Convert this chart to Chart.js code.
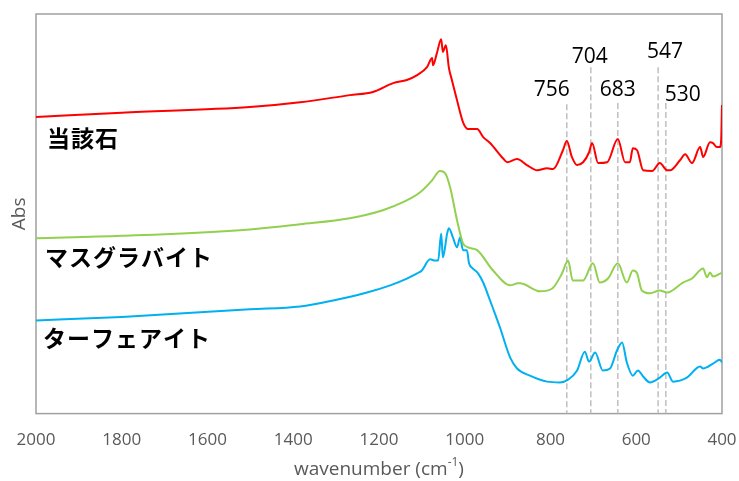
<!DOCTYPE html>
<html>
<head>
<meta charset="utf-8">
<script src="https://cdn.jsdelivr.net/npm/chart.js@4"></script>
<style>
  html, body { margin: 0; padding: 0; background: #fff; }
  #wrap { width: 739px; height: 481px; }
</style>
</head>
<body>
<div id="wrap"><canvas id="c" width="739" height="481"></canvas></div>
<script>
// series names (drawn as labels inside the plot)
const seriesNames = ['当該石', 'マスグラバイト', 'ターフェアイト'];

// 当該石 (red)
const sampleWn = [2000, 1800, 1501, 1384, 1268, 1214, 1167, 1135, 1111, 1088, 1076, 1074, 1065, 1055, 1051, 1044, 1037, 1030, 1018, 1004, 992, 971, 957, 941, 911, 901, 878, 855, 831, 808, 794, 771, 762, 750, 738, 724, 710, 703, 689, 668, 643, 626, 615, 608, 598, 584, 563, 545, 528, 521, 498, 486, 470, 451, 444, 428, 421, 412, 405, 402, 400];
const sampleAbs = [74.2, 75.3, 76.7, 77.9, 79.7, 80.5, 82.7, 83.5, 84.7, 86.7, 89.0, 87.2, 90.2, 93.7, 90.5, 92.2, 86.5, 83.5, 78.4, 72.9, 71.2, 71.2, 69.2, 67.7, 63.9, 62.9, 63.7, 62.2, 60.9, 61.4, 61.2, 65.9, 68.2, 64.2, 62.2, 62.9, 65.4, 67.7, 62.7, 62.9, 68.7, 62.9, 62.9, 66.4, 65.9, 60.9, 60.7, 62.7, 60.9, 60.9, 63.4, 64.9, 62.7, 66.7, 64.2, 67.9, 67.7, 66.7, 66.7, 68.4, 77.2];

// マスグラバイト (green)
const musgraviteWn = [2000, 1800, 1501, 1384, 1268, 1191, 1144, 1104, 1076, 1058, 1046, 1034, 1018, 1004, 992, 971, 934, 894, 876, 871, 824, 796, 773, 759, 748, 724, 701, 685, 666, 643, 622, 608, 598, 587, 568, 545, 528, 491, 470, 444, 435, 428, 421, 400];
const musgraviteAbs = [43.9, 44.5, 46.1, 47.4, 48.9, 50.9, 52.9, 55.4, 58.4, 60.7, 60.2, 56.6, 48.4, 42.6, 41.6, 40.9, 35.8, 32.1, 32.6, 32.6, 30.6, 31.3, 35.1, 38.3, 33.3, 33.3, 37.6, 32.8, 33.8, 37.6, 32.8, 35.8, 35.1, 30.8, 30.1, 30.8, 30.3, 32.8, 33.8, 36.3, 34.1, 35.3, 34.3, 35.3];

// ターフェアイト (blue)
const taaffeiteWn = [2000, 1800, 1501, 1384, 1307, 1228, 1174, 1135, 1111, 1100, 1081, 1069, 1062, 1055, 1051, 1041, 1037, 1027, 1018, 1011, 1004, 995, 990, 981, 969, 957, 941, 934, 918, 894, 878, 848, 808, 778, 759, 738, 720, 710, 696, 678, 661, 645, 633, 622, 608, 596, 584, 568, 545, 528, 514, 482, 451, 444, 421, 405, 400];
const taaffeiteAbs = [23.3, 24.2, 26.1, 26.8, 28.3, 30.3, 32.1, 33.8, 35.1, 35.8, 38.6, 38.3, 38.3, 45.1, 39.1, 45.1, 46.4, 43.9, 41.6, 44.1, 40.9, 40.9, 37.6, 36.3, 35.1, 32.8, 28.3, 26.3, 21.6, 14.0, 11.3, 9.5, 8.0, 7.8, 8.5, 10.8, 15.5, 13.0, 15.3, 10.8, 11.3, 15.8, 17.8, 12.8, 9.5, 10.8, 9.3, 7.8, 9.0, 10.3, 8.0, 9.0, 11.8, 11.3, 12.5, 13.5, 12.8];

// dashed peak markers
const peakWn = [762, 706, 643, 549, 531];
const peakLabels = ['756', '704', '683', '547', '530'];
const peakTop = [77.4, 86.7, 77.7, 86.7, 77.7];

// x axis ticks
const xTicks = [2000, 1800, 1600, 1400, 1200, 1000, 800, 600, 400];

const colors = ['#ff0000', '#92d050', '#00b0f0'];
const toXY = (xs, ys) => xs.map((x, i) => ({ x: x, y: ys[i] }));

const datasets = [
    { label: seriesNames[0], data: toXY(sampleWn, sampleAbs), borderColor: colors[0] },
    { label: seriesNames[1], data: toXY(musgraviteWn, musgraviteAbs), borderColor: colors[1] },
    { label: seriesNames[2], data: toXY(taaffeiteWn, taaffeiteAbs), borderColor: colors[2] }
].map(d => Object.assign(d, { borderWidth: 2, pointRadius: 0, cubicInterpolationMode: 'monotone', order: 0 }));

peakWn.forEach((w, i) => {
    datasets.push({
        label: 'peak ' + peakLabels[i],
        data: [{ x: w, y: peakTop[i] }, { x: w, y: 0 }],
        borderColor: '#bfbfbf',
        borderWidth: 1.5,
        borderDash: [6, 3],
        pointRadius: 0,
        order: 1
    });
});

// text and frame drawn on top of the chart area
const decorations = {
    id: 'decorations',
    beforeDatasetsDraw(chart) {
        const { ctx, chartArea: a } = chart;
        ctx.save();
        ctx.strokeStyle = '#a0a0a0';
        ctx.lineWidth = 1.5;
        ctx.strokeRect(a.left, a.top, a.right - a.left, a.bottom - a.top);
        ctx.restore();
    },
    afterDraw(chart) {
        const { ctx, chartArea: a, scales } = chart;
        const x = scales.x, y = scales.y;
        ctx.save();

        // peak numbers
        const dx = [-15, -1, 0, 7, 17];
        const dy = [-14, -10, -13, -15, -8];
        ctx.font = '21px "Open Sans"';
        ctx.fillStyle = '#000';
        ctx.textAlign = 'center';
        ctx.textBaseline = 'middle';
        peakWn.forEach((w, i) => {
            ctx.fillText(peakLabels[i], x.getPixelForValue(w) + dx[i], y.getPixelForValue(peakTop[i]) + dy[i]);
        });

        // series names
        ctx.font = 'bold 23px "Noto Sans CJK JP"';
        ctx.textAlign = 'left';
        ctx.letterSpacing = '1px';
        const nameX = [a.left + 11, a.left + 9, a.left + 7];
        const nameY = [138, 257, 338];
        seriesNames.forEach((n, i) => ctx.fillText(n, nameX[i], nameY[i]));
        ctx.letterSpacing = '0px';

        // y title
        ctx.fillStyle = '#595959';
        ctx.font = '19px "Open Sans"';
        ctx.textAlign = 'center';
        ctx.translate(20, (a.top + a.bottom) / 2);
        ctx.rotate(-Math.PI / 2);
        ctx.fillText('Abs', 0, 0);
        ctx.setTransform(1, 0, 0, 1, 0, 0);

        // x title with superscript
        const main = 'wavenumber (cm';
        const sup = '-1';
        const end = ')';
        ctx.font = '19px "Open Sans"';
        const w1 = ctx.measureText(main).width;
        const w3 = ctx.measureText(end).width;
        ctx.font = '12px "Open Sans"';
        const w2 = ctx.measureText(sup).width;
        let tx = (a.left + a.right) / 2 - (w1 + w2 + w3) / 2;
        const ty = 470;
        ctx.textAlign = 'left';
        ctx.font = '19px "Open Sans"';
        ctx.fillText(main, tx, ty);
        ctx.font = '12px "Open Sans"';
        ctx.fillText(sup, tx + w1, ty - 7);
        ctx.font = '19px "Open Sans"';
        ctx.fillText(end, tx + w1 + w2, ty);
        ctx.restore();
    }
};

new Chart(document.getElementById('c'), {
    type: 'line',
    data: { datasets: datasets },
    options: {
        responsive: false,
        animation: false,
        layout: { padding: { left: 36, right: 17, top: 14, bottom: 15 } },
        plugins: { legend: { display: false }, tooltip: { enabled: false } },
        scales: {
            x: {
                type: 'linear',
                reverse: true,
                min: 400,
                max: 2000,
                afterBuildTicks: axis => { axis.ticks = xTicks.map(v => ({ value: v })); },
                afterFit: axis => { axis.paddingLeft = 0; axis.paddingRight = 0; },
                ticks: {
                    padding: 16,
                    color: '#595959',
                    font: { family: 'Open Sans', size: 17 },
                    maxRotation: 0,
                    autoSkip: false,
                    callback: v => String(v)
                },
                grid: { display: false, drawTicks: false },
                border: { display: false }
            },
            y: {
                display: false,
                min: 0,
                max: 100
            }
        }
    },
    plugins: [decorations]
});
</script>
</body>
</html>
